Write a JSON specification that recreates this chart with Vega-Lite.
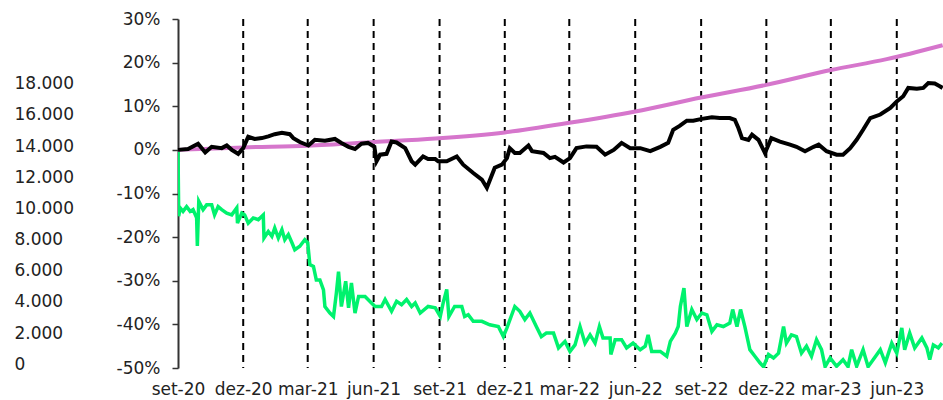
{
  "$schema": "https://vega.github.io/schema/vega-lite/v6.json",
  "width": 765,
  "height": 349,
  "autosize": {"type": "none"},
  "padding": {"left": 178, "top": 19, "right": 0, "bottom": 32},
  "background": "white",
  "config": {
    "view": {"stroke": null},
    "axis": {"labelFont": "DejaVu Sans", "labelFontSize": 17, "labelColor": "#222", "grid": false, "title": null}
  },
  "datasets": {
    "leftaxis": [{"v": 0}, {"v": 18000}],
    "quarters": [
      {"date": "2020-12-01"}, {"date": "2021-03-01"}, {"date": "2021-06-01"}, {"date": "2021-09-01"},
      {"date": "2021-12-01"}, {"date": "2022-03-01"}, {"date": "2022-06-01"}, {"date": "2022-09-01"},
      {"date": "2022-12-01"}, {"date": "2023-03-01"}, {"date": "2023-06-01"}
    ],
    "green": [
      {"date": "2020-09-01", "pct": 0}, {"date": "2020-09-02", "pct": -15.2}, {"date": "2020-09-04", "pct": -13.3},
      {"date": "2020-09-08", "pct": -14.1}, {"date": "2020-09-13", "pct": -13.0}, {"date": "2020-09-18", "pct": -14.1},
      {"date": "2020-09-22", "pct": -13.7}, {"date": "2020-09-27", "pct": -15.6}, {"date": "2020-09-28", "pct": -22.0},
      {"date": "2020-09-30", "pct": -11.8}, {"date": "2020-10-06", "pct": -13.7}, {"date": "2020-10-11", "pct": -12.6},
      {"date": "2020-10-18", "pct": -12.6}, {"date": "2020-10-22", "pct": -14.9}, {"date": "2020-10-27", "pct": -13.0},
      {"date": "2020-11-01", "pct": -13.7}, {"date": "2020-11-08", "pct": -14.5}, {"date": "2020-11-15", "pct": -14.9},
      {"date": "2020-11-22", "pct": -13.3}, {"date": "2020-11-23", "pct": -16.8}, {"date": "2020-11-29", "pct": -14.5},
      {"date": "2020-12-03", "pct": -14.9}, {"date": "2020-12-08", "pct": -16.8}, {"date": "2020-12-15", "pct": -15.6},
      {"date": "2020-12-22", "pct": -16.0}, {"date": "2020-12-29", "pct": -14.9}, {"date": "2020-12-30", "pct": -20.2},
      {"date": "2021-01-05", "pct": -18.7}, {"date": "2021-01-10", "pct": -19.8}, {"date": "2021-01-14", "pct": -17.9},
      {"date": "2021-01-19", "pct": -20.2}, {"date": "2021-01-24", "pct": -18.3}, {"date": "2021-01-28", "pct": -20.6},
      {"date": "2021-02-02", "pct": -19.4}, {"date": "2021-02-07", "pct": -21.3}, {"date": "2021-02-11", "pct": -22.9},
      {"date": "2021-02-18", "pct": -22.1}, {"date": "2021-02-25", "pct": -20.6}, {"date": "2021-03-01", "pct": -21.3},
      {"date": "2021-03-04", "pct": -26.3}, {"date": "2021-03-09", "pct": -26.7}, {"date": "2021-03-13", "pct": -29.8},
      {"date": "2021-03-18", "pct": -29.8}, {"date": "2021-03-23", "pct": -32.1}, {"date": "2021-03-25", "pct": -35.9},
      {"date": "2021-04-01", "pct": -37.4}, {"date": "2021-04-06", "pct": -38.2}, {"date": "2021-04-10", "pct": -32.8},
      {"date": "2021-04-13", "pct": -27.9}, {"date": "2021-04-17", "pct": -35.9}, {"date": "2021-04-23", "pct": -30.1},
      {"date": "2021-04-27", "pct": -36.2}, {"date": "2021-05-01", "pct": -30.5}, {"date": "2021-05-06", "pct": -37.4},
      {"date": "2021-05-11", "pct": -33.6}, {"date": "2021-05-20", "pct": -33.6}, {"date": "2021-05-29", "pct": -35.1},
      {"date": "2021-06-03", "pct": -35.9}, {"date": "2021-06-12", "pct": -35.9}, {"date": "2021-06-17", "pct": -34.3},
      {"date": "2021-06-26", "pct": -37.0}, {"date": "2021-07-03", "pct": -34.7}, {"date": "2021-07-10", "pct": -35.5},
      {"date": "2021-07-17", "pct": -34.3}, {"date": "2021-07-24", "pct": -35.9}, {"date": "2021-07-29", "pct": -35.1},
      {"date": "2021-08-05", "pct": -37.4}, {"date": "2021-08-16", "pct": -35.9}, {"date": "2021-08-26", "pct": -36.2},
      {"date": "2021-09-02", "pct": -38.2}, {"date": "2021-09-06", "pct": -35.1}, {"date": "2021-09-11", "pct": -32.0},
      {"date": "2021-09-14", "pct": -38.2}, {"date": "2021-09-22", "pct": -35.9}, {"date": "2021-10-02", "pct": -35.9},
      {"date": "2021-10-06", "pct": -38.2}, {"date": "2021-10-11", "pct": -37.8}, {"date": "2021-10-18", "pct": -39.3},
      {"date": "2021-10-30", "pct": -39.3}, {"date": "2021-11-10", "pct": -40.1}, {"date": "2021-11-22", "pct": -40.5},
      {"date": "2021-11-29", "pct": -42.8}, {"date": "2021-12-04", "pct": -40.8}, {"date": "2021-12-15", "pct": -35.9},
      {"date": "2021-12-22", "pct": -37.0}, {"date": "2021-12-29", "pct": -38.9}, {"date": "2022-01-05", "pct": -37.4},
      {"date": "2022-01-14", "pct": -40.5}, {"date": "2022-01-21", "pct": -42.8}, {"date": "2022-01-28", "pct": -42.0},
      {"date": "2022-02-07", "pct": -42.0}, {"date": "2022-02-14", "pct": -45.4}, {"date": "2022-02-23", "pct": -43.9},
      {"date": "2022-03-02", "pct": -46.2}, {"date": "2022-03-09", "pct": -44.7}, {"date": "2022-03-16", "pct": -40.5},
      {"date": "2022-03-23", "pct": -44.3}, {"date": "2022-03-30", "pct": -42.4}, {"date": "2022-04-06", "pct": -44.3},
      {"date": "2022-04-12", "pct": -40.5}, {"date": "2022-04-17", "pct": -43.1}, {"date": "2022-04-27", "pct": -43.1},
      {"date": "2022-04-28", "pct": -46.9}, {"date": "2022-05-04", "pct": -43.5}, {"date": "2022-05-13", "pct": -43.5},
      {"date": "2022-05-20", "pct": -45.4}, {"date": "2022-05-29", "pct": -44.3}, {"date": "2022-06-08", "pct": -45.8},
      {"date": "2022-06-15", "pct": -45.0}, {"date": "2022-06-19", "pct": -42.4}, {"date": "2022-06-24", "pct": -46.2},
      {"date": "2022-07-06", "pct": -46.2}, {"date": "2022-07-15", "pct": -47.3}, {"date": "2022-07-20", "pct": -43.9},
      {"date": "2022-07-27", "pct": -42.0}, {"date": "2022-07-31", "pct": -40.5}, {"date": "2022-08-03", "pct": -35.9},
      {"date": "2022-08-08", "pct": -31.7}, {"date": "2022-08-12", "pct": -40.5}, {"date": "2022-08-19", "pct": -36.6},
      {"date": "2022-08-26", "pct": -38.9}, {"date": "2022-09-02", "pct": -37.4}, {"date": "2022-09-09", "pct": -37.8},
      {"date": "2022-09-16", "pct": -41.6}, {"date": "2022-09-23", "pct": -40.1}, {"date": "2022-10-02", "pct": -40.5},
      {"date": "2022-10-11", "pct": -39.7}, {"date": "2022-10-15", "pct": -36.6}, {"date": "2022-10-21", "pct": -40.5},
      {"date": "2022-10-26", "pct": -36.6}, {"date": "2022-11-01", "pct": -40.5}, {"date": "2022-11-08", "pct": -45.8},
      {"date": "2022-11-15", "pct": -47.3}, {"date": "2022-11-22", "pct": -48.8}, {"date": "2022-11-27", "pct": -49.7},
      {"date": "2022-12-04", "pct": -46.9}, {"date": "2022-12-11", "pct": -47.7}, {"date": "2022-12-18", "pct": -46.6},
      {"date": "2022-12-25", "pct": -40.5}, {"date": "2022-12-29", "pct": -44.3}, {"date": "2023-01-05", "pct": -42.4},
      {"date": "2023-01-12", "pct": -42.8}, {"date": "2023-01-19", "pct": -46.6}, {"date": "2023-01-26", "pct": -45.0},
      {"date": "2023-02-02", "pct": -47.3}, {"date": "2023-02-09", "pct": -43.5}, {"date": "2023-02-16", "pct": -45.8},
      {"date": "2023-02-21", "pct": -49.7}, {"date": "2023-02-28", "pct": -47.7}, {"date": "2023-03-09", "pct": -49.6},
      {"date": "2023-03-18", "pct": -48.1}, {"date": "2023-03-25", "pct": -49.7}, {"date": "2023-03-30", "pct": -45.8},
      {"date": "2023-04-06", "pct": -49.6}, {"date": "2023-04-15", "pct": -45.8}, {"date": "2023-04-22", "pct": -49.7},
      {"date": "2023-04-29", "pct": -48.1}, {"date": "2023-05-09", "pct": -45.8}, {"date": "2023-05-16", "pct": -48.8},
      {"date": "2023-05-25", "pct": -44.3}, {"date": "2023-06-01", "pct": -46.6}, {"date": "2023-06-08", "pct": -40.8},
      {"date": "2023-06-12", "pct": -45.8}, {"date": "2023-06-19", "pct": -42.0}, {"date": "2023-06-26", "pct": -45.4},
      {"date": "2023-07-06", "pct": -43.1}, {"date": "2023-07-13", "pct": -45.4}, {"date": "2023-07-17", "pct": -48.1},
      {"date": "2023-07-22", "pct": -44.7}, {"date": "2023-07-29", "pct": -45.4}, {"date": "2023-08-03", "pct": -44.3}
    ],
    "pink": [
      {"date": "2020-09-01", "pct": 0}, {"date": "2020-12-01", "pct": 0.57}, {"date": "2021-03-01", "pct": 0.96},
      {"date": "2021-06-02", "pct": 1.8}, {"date": "2021-08-26", "pct": 2.6}, {"date": "2021-12-01", "pct": 4.0},
      {"date": "2022-03-01", "pct": 6.2}, {"date": "2022-06-01", "pct": 8.8}, {"date": "2022-09-01", "pct": 12.0},
      {"date": "2022-12-01", "pct": 14.9}, {"date": "2023-03-01", "pct": 18.3}, {"date": "2023-05-18", "pct": 20.8},
      {"date": "2023-08-04", "pct": 24.0}
    ],
    "black": [
      {"date": "2020-09-01", "pct": 0}, {"date": "2020-09-15", "pct": 0.2}, {"date": "2020-09-29", "pct": 1.4},
      {"date": "2020-10-09", "pct": -0.6}, {"date": "2020-10-18", "pct": 0.7}, {"date": "2020-11-01", "pct": 0.4},
      {"date": "2020-11-08", "pct": 1.0}, {"date": "2020-11-15", "pct": 0.0}, {"date": "2020-11-24", "pct": -0.9},
      {"date": "2020-12-01", "pct": 0.4}, {"date": "2020-12-08", "pct": 3.0}, {"date": "2020-12-17", "pct": 2.5},
      {"date": "2020-12-27", "pct": 2.7}, {"date": "2021-01-05", "pct": 3.1}, {"date": "2021-01-14", "pct": 3.6},
      {"date": "2021-01-24", "pct": 3.9}, {"date": "2021-02-04", "pct": 3.6}, {"date": "2021-02-09", "pct": 2.7},
      {"date": "2021-02-18", "pct": 1.8}, {"date": "2021-03-02", "pct": 1.0}, {"date": "2021-03-11", "pct": 2.3},
      {"date": "2021-03-25", "pct": 2.1}, {"date": "2021-04-08", "pct": 2.5}, {"date": "2021-04-17", "pct": 1.6},
      {"date": "2021-04-27", "pct": 0.7}, {"date": "2021-05-06", "pct": 0.2}, {"date": "2021-05-15", "pct": 1.4},
      {"date": "2021-05-24", "pct": 1.6}, {"date": "2021-06-02", "pct": 0.7}, {"date": "2021-06-05", "pct": -2.6},
      {"date": "2021-06-10", "pct": -1.1}, {"date": "2021-06-19", "pct": -0.9}, {"date": "2021-06-26", "pct": 1.9},
      {"date": "2021-07-03", "pct": 1.7}, {"date": "2021-07-15", "pct": 0.4}, {"date": "2021-07-24", "pct": -2.6},
      {"date": "2021-07-29", "pct": -3.4}, {"date": "2021-08-09", "pct": -1.5}, {"date": "2021-08-16", "pct": -2.1},
      {"date": "2021-08-26", "pct": -2.1}, {"date": "2021-08-30", "pct": -2.6}, {"date": "2021-09-11", "pct": -2.6},
      {"date": "2021-09-25", "pct": -1.5}, {"date": "2021-10-04", "pct": -3.4}, {"date": "2021-10-18", "pct": -5.3},
      {"date": "2021-10-30", "pct": -6.8}, {"date": "2021-11-06", "pct": -8.7}, {"date": "2021-11-17", "pct": -4.1},
      {"date": "2021-11-27", "pct": -3.4}, {"date": "2021-12-04", "pct": -1.9}, {"date": "2021-12-08", "pct": 0.4},
      {"date": "2021-12-15", "pct": -0.7}, {"date": "2021-12-22", "pct": -0.7}, {"date": "2022-01-03", "pct": 1.0},
      {"date": "2022-01-08", "pct": -0.3}, {"date": "2022-01-24", "pct": -0.7}, {"date": "2022-02-02", "pct": -1.9},
      {"date": "2022-02-09", "pct": -1.6}, {"date": "2022-02-21", "pct": -2.9}, {"date": "2022-03-02", "pct": -1.9},
      {"date": "2022-03-11", "pct": 0.4}, {"date": "2022-03-25", "pct": 0.8}, {"date": "2022-04-08", "pct": 0.7},
      {"date": "2022-04-20", "pct": -1.1}, {"date": "2022-05-02", "pct": 0.0}, {"date": "2022-05-13", "pct": 1.6},
      {"date": "2022-05-25", "pct": 0.4}, {"date": "2022-06-08", "pct": 0.4}, {"date": "2022-06-22", "pct": -0.3},
      {"date": "2022-07-06", "pct": 0.7}, {"date": "2022-07-17", "pct": 1.6}, {"date": "2022-07-24", "pct": 4.6},
      {"date": "2022-08-02", "pct": 5.5}, {"date": "2022-08-12", "pct": 6.7}, {"date": "2022-08-21", "pct": 6.7},
      {"date": "2022-09-02", "pct": 7.1}, {"date": "2022-09-16", "pct": 7.5}, {"date": "2022-09-27", "pct": 7.3},
      {"date": "2022-10-11", "pct": 7.3}, {"date": "2022-10-18", "pct": 6.9}, {"date": "2022-10-23", "pct": 5.0},
      {"date": "2022-10-28", "pct": 2.7}, {"date": "2022-11-06", "pct": 2.3}, {"date": "2022-11-11", "pct": 3.5},
      {"date": "2022-11-20", "pct": 2.3}, {"date": "2022-11-29", "pct": -0.7}, {"date": "2022-12-08", "pct": 2.7},
      {"date": "2022-12-20", "pct": 1.9}, {"date": "2023-01-03", "pct": 1.2}, {"date": "2023-01-12", "pct": 0.7},
      {"date": "2023-01-24", "pct": -0.3}, {"date": "2023-02-05", "pct": 0.7}, {"date": "2023-02-12", "pct": 1.2},
      {"date": "2023-02-23", "pct": -0.3}, {"date": "2023-03-09", "pct": -1.1}, {"date": "2023-03-18", "pct": -1.1},
      {"date": "2023-03-28", "pct": 0.4}, {"date": "2023-04-06", "pct": 2.3}, {"date": "2023-04-15", "pct": 4.6},
      {"date": "2023-04-25", "pct": 7.3}, {"date": "2023-05-09", "pct": 8.1}, {"date": "2023-05-23", "pct": 9.6},
      {"date": "2023-06-01", "pct": 11.1}, {"date": "2023-06-10", "pct": 12.3}, {"date": "2023-06-17", "pct": 14.2},
      {"date": "2023-06-29", "pct": 14.0}, {"date": "2023-07-08", "pct": 14.2}, {"date": "2023-07-15", "pct": 15.3},
      {"date": "2023-07-24", "pct": 15.2}, {"date": "2023-07-31", "pct": 14.6}, {"date": "2023-08-04", "pct": 14.2}
    ]
  },
  "layer": [
    {
      "data": {"name": "leftaxis"},
      "mark": {"type": "point", "opacity": 0},
      "encoding": {
        "y": {
          "field": "v", "type": "quantitative",
          "scale": {"domain": [-244, 22150], "nice": false, "zero": false},
          "axis": {
            "orient": "left", "values": [0, 2000, 4000, 6000, 8000, 10000, 12000, 14000, 16000, 18000],
            "labelExpr": "replace(format(datum.value, ','), ',', '.')",
            "domain": false, "ticks": false, "tickSize": 0, "labelAlign": "left", "labelPadding": 164
          }
        }
      }
    },
    {
      "layer": [
        {
          "data": {"name": "quarters"},
          "mark": {"type": "rule", "strokeDash": [7, 5], "strokeWidth": 2, "color": "#000"},
          "encoding": {"x": {"field": "date", "type": "temporal"}}
        },
        {
          "encoding": {
            "x": {
              "field": "date", "type": "temporal",
              "scale": {"type": "utc", "domain": [{"year": 2020, "month": 9, "date": 1, "utc": true}, {"year": 2023, "month": 8, "date": 4, "hours": 12, "utc": true}]},
              "axis": {
                "values": [
                  {"year": 2020, "month": 9, "date": 1, "utc": true}, {"year": 2020, "month": 12, "date": 1, "utc": true},
                  {"year": 2021, "month": 3, "date": 1, "utc": true}, {"year": 2021, "month": 6, "date": 1, "utc": true},
                  {"year": 2021, "month": 9, "date": 1, "utc": true}, {"year": 2021, "month": 12, "date": 1, "utc": true},
                  {"year": 2022, "month": 3, "date": 1, "utc": true}, {"year": 2022, "month": 6, "date": 1, "utc": true},
                  {"year": 2022, "month": 9, "date": 1, "utc": true}, {"year": 2022, "month": 12, "date": 1, "utc": true},
                  {"year": 2023, "month": 3, "date": 1, "utc": true}, {"year": 2023, "month": 6, "date": 1, "utc": true}
                ],
                "labelExpr": "['jan','fev','mar','abr','mai','jun','jul','ago','set','out','nov','dez'][utcmonth(datum.value)] + '-' + utcFormat(datum.value, '%y')",
                "domain": false, "ticks": false, "labelPadding": 13, "labelFlush": false, "labelOverlap": false
              }
            },
            "y": {
              "field": "pct", "type": "quantitative",
              "scale": {"domain": [-50, 30], "nice": false, "zero": false},
              "axis": {
                "orient": "left", "values": [-50, -40, -30, -20, -10, 0, 10, 20, 30],
                "labelExpr": "datum.value + '%'",
                "domainColor": "#333", "domainWidth": 2, "tickColor": "#333", "tickWidth": 1.5, "tickSize": 6, "labelPadding": 12
              }
            }
          },
          "layer": [
            {"data": {"name": "green"}, "mark": {"type": "line", "color": "#00f26d", "strokeWidth": 3.5, "clip": true}},
            {"data": {"name": "pink"}, "mark": {"type": "line", "color": "#d676cc", "strokeWidth": 4, "interpolate": "monotone"}},
            {"data": {"name": "black"}, "mark": {"type": "line", "color": "#000000", "strokeWidth": 4}}
          ]
        }
      ]
    }
  ],
  "resolve": {"scale": {"y": "independent"}}
}
